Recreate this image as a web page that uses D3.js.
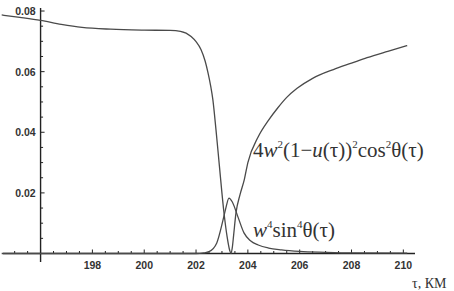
<!DOCTYPE html>
<html>
<head>
<meta charset="utf-8">
<script src="https://cdn.jsdelivr.net/npm/d3@7"></script>
<style>
  body { margin: 0; background: #ffffff; }
  svg { display: block; }
</style>
</head>
<body>
<svg id="chart" width="454" height="291"></svg>
<script>

// 4w^2 (1-u)^2 cos^2 theta  -- the big curve
var tauMain = [ 194.5, 195.2, 196.0, 196.8, 197.6, 198.7, 200.0, 201.0, 201.4, 201.81, 202.0, 202.19, 202.35, 202.46, 202.56, 202.65, 202.77, 202.9, 203.08, 203.2, 203.3, 203.35,
                203.4, 203.45, 203.54, 203.7, 203.86, 204.0, 204.4, 204.8, 205.15, 205.5, 205.9, 206.5, 207.3, 208.0, 208.6, 209.4, 210.15 ];
var valMain = [ 0.0787, 0.0779, 0.0769, 0.0756, 0.0746, 0.0740, 0.0737, 0.0736, 0.0733, 0.0716, 0.0699, 0.0673, 0.0635, 0.0597, 0.0555, 0.0507, 0.0408, 0.0290, 0.0133, 0.0055, 0.0010, 0.0,
                0.0020, 0.0060, 0.0133, 0.0195, 0.0243, 0.0300, 0.0385, 0.0440, 0.0480, 0.0515, 0.0545, 0.0578, 0.0607, 0.0628, 0.0646, 0.0667, 0.0686 ];

// w^4 sin^4 theta  -- the small peak
var tauPeak = [ 194.5, 200.0, 202.0, 202.3, 202.5, 202.8, 203.04, 203.15, 203.27, 203.4, 203.62, 203.85, 204.1, 204.4, 204.8, 205.3, 206.0, 207.0, 208.0, 210.15 ];
var valPeak = [ 0.0, 0.0, 0.0, 0.0002, 0.0006, 0.0035, 0.0110, 0.0150, 0.0183, 0.0170, 0.0120, 0.0068, 0.0042, 0.0028, 0.0018, 0.0012, 0.0007, 0.0004, 0.0002, 0.0001 ];

var xMajor = [ 198, 200, 202, 204, 206, 208, 210 ];
var yMajor = [ 0.02, 0.04, 0.06, 0.08 ];

var svg = d3.select( "#chart" );

var x = d3.scaleLinear().domain( [ 194.55, 210.45 ] ).range( [ 3, 415 ] );
var y = d3.scaleLinear().domain( [ -0.0028, 0.081 ] ).range( [ 262, 8 ] );

var axisColor = "#222222";
var curveColor = "#4a4a4a";

// x axis (minor ticks every 0.5, major every 2, ticks point up)
var xMinor = d3.range( 195, 210.3, 0.5 );
var gx = svg.append( "g" ).attr( "transform", "translate(0," + y( 0 ) + ")" );
gx.append( "line" )
  .attr( "x1", x.range()[0] ).attr( "x2", x.range()[1] )
  .attr( "stroke", axisColor ).attr( "stroke-width", 1.4 );
gx.selectAll( "line.tk" )
  .data( xMinor )
  .enter().append( "line" )
  .attr( "class", "tk" )
  .attr( "x1", function( d ) { return x( d ); } )
  .attr( "x2", function( d ) { return x( d ); } )
  .attr( "y1", 0 )
  .attr( "y2", function( d ) { return d % 2 == 0 ? -4 : -2.5; } )
  .attr( "stroke", axisColor ).attr( "stroke-width", 1 );
gx.selectAll( "text" )
  .data( xMajor )
  .enter().append( "text" )
  .attr( "x", function( d ) { return x( d ); } )
  .attr( "y", 15 )
  .attr( "text-anchor", "middle" )
  .style( "font-family", "Liberation Sans, Arial, sans-serif" )
  .style( "font-size", "10.5px" )
  .style( "font-weight", "bold" )
  .attr( "fill", "#333333" )
  .text( function( d ) { return d; } );

// y axis (minor every 0.005, ticks point right)
var yMinor = d3.range( 0.005, 0.0801, 0.005 );
var gy = svg.append( "g" ).attr( "transform", "translate(" + x( 196 ) + ",0)" );
gy.append( "line" )
  .attr( "y1", y.range()[0] ).attr( "y2", y.range()[1] )
  .attr( "stroke", axisColor ).attr( "stroke-width", 1.4 );
gy.selectAll( "line.tk" )
  .data( yMinor )
  .enter().append( "line" )
  .attr( "class", "tk" )
  .attr( "y1", function( d ) { return y( d ); } )
  .attr( "y2", function( d ) { return y( d ); } )
  .attr( "x1", 0 )
  .attr( "x2", function( d ) { return Math.round( d * 1000 ) % 20 == 0 ? 4 : 2.5; } )
  .attr( "stroke", axisColor ).attr( "stroke-width", 1 );
gy.selectAll( "text" )
  .data( yMajor )
  .enter().append( "text" )
  .attr( "x", -5 )
  .attr( "y", function( d ) { return y( d ) + 4; } )
  .attr( "text-anchor", "end" )
  .style( "font-family", "Liberation Sans, Arial, sans-serif" )
  .style( "font-size", "10.5px" )
  .style( "font-weight", "bold" )
  .attr( "fill", "#333333" )
  .text( function( d ) { return d3.format( ".2f" )( d ); } );

// curves
var line = d3.line()
  .x( function( d ) { return x( d[0] ); } )
  .y( function( d ) { return y( d[1] ); } )
  .curve( d3.curveMonotoneX );

svg.append( "path" )
  .datum( d3.zip( tauMain, valMain ) )
  .attr( "d", line )
  .attr( "fill", "none" )
  .attr( "stroke", curveColor )
  .attr( "stroke-width", 1.3 );

svg.append( "path" )
  .datum( d3.zip( tauPeak, valPeak ) )
  .attr( "d", line )
  .attr( "fill", "none" )
  .attr( "stroke", curveColor )
  .attr( "stroke-width", 1.3 );

// labels with superscripts
var addLabel = function( px, py, parts ) {
    var t = svg.append( "text" )
      .attr( "x", px ).attr( "y", py )
      .style( "font-family", "Liberation Serif, Times New Roman, serif" )
      .style( "font-size", "21px" )
      .attr( "fill", "#333333" );
    parts.forEach( function( p ) {
        var s = t.append( "tspan" ).text( p[0] );
        if ( p[1] == "sup" ) {
            s.attr( "dy", -9 ).style( "font-size", "11px" );
        } else if ( p[2] ) {
            s.attr( "dy", 9 );
        }
        if ( p[1] == "it" ) { s.style( "font-style", "italic" ); }
    });
    return t;
};

addLabel( 253, 157, [ [ "4" ], [ "w", "it" ], [ "2", "sup" ], [ "(1\u2212", "", 1 ], [ "u", "it" ], [ "(\u03c4))" ],
                      [ "2", "sup" ], [ "cos", "", 1 ], [ "2", "sup" ], [ "\u03b8(\u03c4)", "", 1 ] ] );
addLabel( 253, 237, [ [ "w", "it" ], [ "4", "sup" ], [ "sin", "", 1 ], [ "4", "sup" ], [ "\u03b8(\u03c4)", "", 1 ] ] );

svg.append( "text" )
  .attr( "x", 412 ).attr( "y", 288 )
  .style( "font-family", "Liberation Serif, Times New Roman, serif" )
  .style( "font-size", "14px" )
  .attr( "fill", "#333333" )
  .text( "\u03c4, \u041a\u041c" );

</script>
</body>
</html>
